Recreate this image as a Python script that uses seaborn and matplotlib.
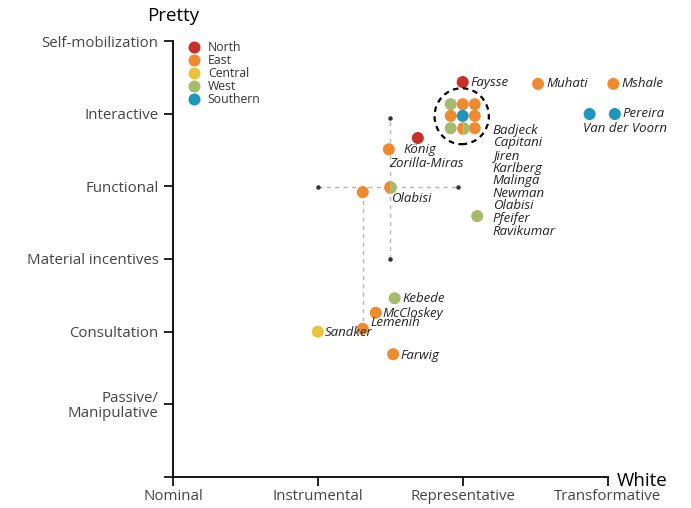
import matplotlib
matplotlib.use("Agg")
import matplotlib.pyplot as plt
import seaborn as sns
import pandas as pd
from matplotlib.patches import Ellipse

sns.set_theme(style="white")
plt.rcParams['font.family'] = ['Open Sans', 'DejaVu Sans']

# Category scales
x_ticklabels = ["Nominal", "Instrumental", "Representative", "Transformative"]
y_ticklabels = ["", "Passive/\nManipulative", "Consultation", "Material incentives",
                "Functional", "Interactive", "Self-mobilization"]

regions = ["North", "East", "Central", "West", "Southern"]
region_colors = ["#c8302a", "#ef8a2f", "#e8c53d", "#a4bb6b", "#1d95bf"]

# Single-colour points
names = ["Faysse", "Muhati", "Mshale", "Van der Voorn", "Pereira",
         "c1", "c2", "c3", "c4", "c5", "c6", "c7", "c8",
         "König", "Zorilla-Miras", "u1", "Pfeifer",
         "Kebede", "McCloskey", "Lemenih", "Sandker", "Farwig"]
xs = [2.00, 2.52, 3.04, 2.876, 3.05,
      1.917, 2.0, 2.083, 1.917, 2.0, 2.083, 1.917, 2.083,
      1.69, 1.49, 1.31, 2.10,
      1.53, 1.40, 1.31, 1.00, 1.52]
ys = [5.435, 5.41, 5.41, 4.995, 4.995,
      5.13, 5.13, 5.13, 4.97, 4.97, 4.97, 4.80, 4.80,
      4.665, 4.51, 3.92, 3.59,
      2.46, 2.26, 2.04, 2.00, 1.69]
region = ["North", "East", "East", "Southern", "Southern",
          "West", "East", "East", "East", "Southern", "East", "West", "East",
          "North", "East", "East", "West",
          "West", "East", "East", "Central", "East"]

# Half East / half West points
half_x = [2.0, 1.50]
half_y = [4.80, 3.99]

# Labels with pixel offsets
labels = ["Faysse", "Muhati", "Mshale", "Pereira", "Van der Voorn", "König",
          "Zorilla-Miras", "Olabisi", "Kebede", "McCloskey", "Lemenih", "Sandker", "Farwig"]
label_x = [2.00, 2.52, 3.04, 3.05, 2.876, 1.69, 1.49, 1.50, 1.53, 1.40, 1.31, 1.00, 1.52]
label_y = [5.435, 5.41, 5.41, 4.995, 4.995, 4.665, 4.51, 3.99, 2.46, 2.26, 2.04, 2.00, 1.69]
label_dx = [8, 8, 8, 8, -7, -14, 0, 1, 8, 7, 8, 7, 7]
label_dy = [0, 0, 0, 1, -14, -11, -14, -11, 0, -1, 6, -1, -1]

cluster_names = ["Badjeck", "Capitani", "Jiren", "Karlberg", "Malinga",
                 "Newman", "Olabisi", "Pfeifer", "Ravikumar"]

df = pd.DataFrame({"x": xs, "y": ys, "region": region})

fig = plt.figure(figsize=(6.91, 5.08), dpi=100)
ax = fig.add_axes([173 / 691, 31 / 508, 507 / 691, 436 / 508])

# Range lines
ax.plot([1.0, 1.97], [3.99, 3.99], ls=(0, (3, 3)), color="#b5b5b5", lw=1, zorder=1)
ax.plot([1.5, 1.5], [3.0, 4.94], ls=(0, (3, 3)), color="#b5b5b5", lw=1, zorder=1)
ax.plot([1.31, 1.31], [3.92, 2.04], ls=(0, (3, 3)), color="#b5b5b5", lw=1, zorder=1)
ax.scatter([1.0, 1.97, 1.5, 1.5], [3.99, 3.99, 3.0, 4.94], s=5, color="#333333", zorder=2)

sns.scatterplot(data=df, x="x", y="y", hue="region", hue_order=regions,
                palette=region_colors, s=75, edgecolor="none", ax=ax, zorder=3)

ax.plot(half_x, half_y, ls="none", marker="o", markersize=9.2, fillstyle="left",
        markerfacecolor=region_colors[1], markerfacecoloralt=region_colors[3],
        markeredgewidth=0, zorder=3)

ax.add_patch(Ellipse((1.993, 4.965), 0.375, 0.77, fill=False, ls=(0, (2.5, 2)),
                     lw=1.6, edgecolor="black", zorder=4))

for t, lx, ly, dx, dy in zip(labels, label_x, label_y, label_dx, label_dy):
    ax.annotate(t, (lx, ly), xytext=(dx, dy), textcoords="offset pixels",
                ha="left", va="center", fontsize=9.5, style="italic", color="#222222")

ax.text(2.207, 4.86, "\n".join(cluster_names), ha="left", va="top", fontsize=9.5,
        style="italic", color="#222222", linespacing=0.96)

ax.set_xlim(0, 3.5)
ax.set_ylim(0, 6)
ax.set_xticks(range(len(x_ticklabels)))
ax.set_xticklabels(x_ticklabels)
ax.set_yticks(range(len(y_ticklabels)))
ax.set_yticklabels(y_ticklabels, linespacing=0.95)
ax.set_xlabel("")
ax.set_ylabel("")
for s in ["top", "right"]:
    ax.spines[s].set_visible(False)
ax.spines["left"].set_bounds(0, 6)
ax.spines["bottom"].set_bounds(0, 3)
for s in ["left", "bottom"]:
    ax.spines[s].set_color("black")
    ax.spines[s].set_linewidth(1.3)
ax.tick_params(axis="both", which="both", length=6.5, width=1.2, color="black",
               labelsize=10.8, labelcolor="#444444", left=True, bottom=True, pad=4)
ax.tick_params(axis="x", pad=2)

ax.text(0, 6.22, "Pretty", ha="center", va="bottom", fontsize=13.5, color="black",
        transform=ax.transData, clip_on=False)
ax.text(3.06, -0.055, "White", ha="left", va="center", fontsize=13.5, color="black",
        clip_on=False)

leg = ax.legend(loc="upper left", bbox_to_anchor=(0.018, 1.0), frameon=False,
                borderpad=0, borderaxespad=0, handletextpad=0.1, labelspacing=0.0,
                fontsize=8.8, markerscale=1.0, title=None)
for txt in leg.get_texts():
    txt.set_color("#333333")

fig.savefig("out.png", dpi=100)
